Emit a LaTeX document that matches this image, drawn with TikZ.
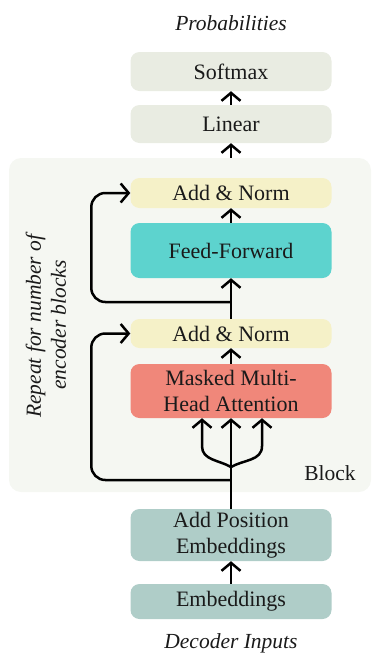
\documentclass[tikz,border=0pt]{standalone}
\usepackage{xcolor}
\usepackage{fontspec}
\setmainfont{Liberation Serif}
\usetikzlibrary{arrows.meta}

\definecolor{headgray}{HTML}{E9ECE2}
\definecolor{blockbg}{HTML}{F5F7F2}
\definecolor{normyellow}{HTML}{F5F1C8}
\definecolor{ffteal}{HTML}{5DD3CE}
\definecolor{attnred}{HTML}{F0877A}
\definecolor{embgreen}{HTML}{AFCDC8}
\definecolor{inktext}{HTML}{1A1A1A}

\begin{document}
\begin{tikzpicture}[x=1pt,y=1pt,
    box/.style={rounded corners=9pt, minimum width=201pt, inner sep=0pt, align=center, text=inktext, font=\fontsize{22}{26}\selectfont},
    txt/.style={align=center, text=inktext, font=\fontsize{21.5}{25}\selectfont},
    arr/.style={line width=2.5pt, -{Straight Barb[length=8pt,width=19pt]}}]
    \useasboundingbox (0,0) rectangle (372,-654);

    % Bloc repete
    \node[fill=blockbg, rounded corners=12pt, minimum width=362pt, minimum height=334pt, inner sep=0pt] (blockbg) at (190,-325) {};
    \node[txt] (block) at (330,-473) {Block};
    \node[txt, rotate=90] (repeat) at (46,-325) {\textit{Repeat for number of}\\\textit{encoder blocks}};

    % Sortie
    \node[txt] (probs) at (231,-23) {\textit{Probabilities}};
    \node[box, fill=headgray, minimum height=39pt] (softmax) at (231,-71.5) {Softmax};
    \node[box, fill=headgray, minimum height=38pt] (linear) at (231,-124) {Linear};

    % Feed-forward
    \node[box, fill=normyellow, minimum height=30pt] (addnorm1) at (231,-193) {Add \& Norm};
    \node[box, fill=ffteal, minimum height=55pt] (ff) at (231,-250.5) {Feed-Forward};

    % Attention
    \node[box, fill=normyellow, minimum height=29pt] (addnorm2) at (231,-333.5) {Add \& Norm};
    \node[box, fill=attnred, minimum height=54pt] (mha) at (231,-391) {Masked Multi-\\Head Attention};

    % Entrees
    \node[box, fill=embgreen, minimum height=52pt] (pos) at (231,-535) {Add Position\\Embeddings};
    \node[box, fill=embgreen, minimum height=35pt] (emb) at (231,-601.5) {Embeddings};
    \node[txt] (inputs) at (231,-643) {\textit{Decoder Inputs}};

    % Fleches
    \draw[arr] (linear.north) -- (softmax.south);
    \draw[arr] (blockbg.north -| linear.south) -- (linear.south);
    \draw[arr] (ff.north) -- (addnorm1.south);
    \draw[arr] (addnorm2.north) -- (ff.south);
    \draw[arr] (mha.north) -- (addnorm2.south);
    \draw[arr] (pos.north) -- (mha.south);
    \draw[arr] (emb.north) -- (pos.south);

    % Connexions residuelles
    \coordinate (split1) at (231,-302);
    \coordinate (split2) at (231,-480);
    \draw[arr, rounded corners=14pt] (split1) -| ([xshift=-39pt]addnorm1.west) -- (addnorm1.west);
    \draw[arr, rounded corners=14pt] (split2) -| ([xshift=-39pt]addnorm2.west) -- (addnorm2.west);

    % Q, K, V
    \coordinate (fork) at (231,-467);
    \draw[arr] (fork) to[out=150,in=-90] ([xshift=-29pt,yshift=-28pt]mha.south) -- ([xshift=-29pt]mha.south);
    \draw[arr] (fork) to[out=30,in=-90] ([xshift=31pt,yshift=-28pt]mha.south) -- ([xshift=31pt]mha.south);

\end{tikzpicture}
\end{document}
